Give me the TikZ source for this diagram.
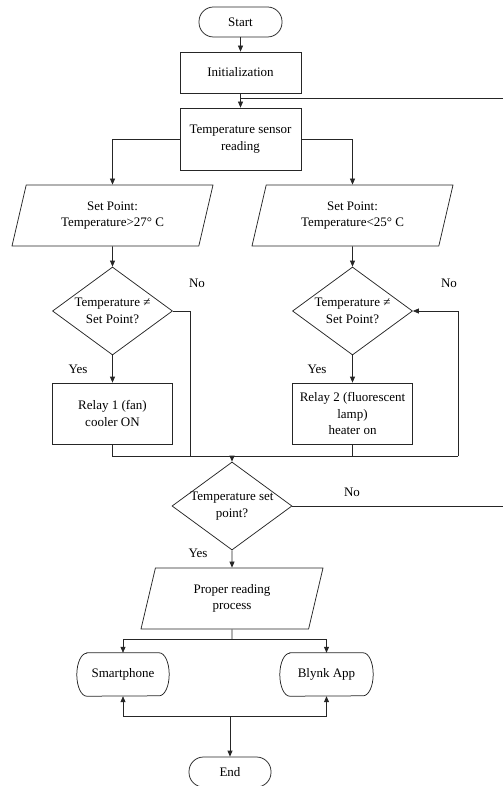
\documentclass[tikz,border=0pt]{standalone}
\usepackage{fontspec}
\setmainfont{Liberation Serif}
\usetikzlibrary{shapes.geometric,arrows.meta}
\begin{document}
\begin{tikzpicture}[x=1pt,y=-1pt,
  every node/.style={font=\fontsize{13}{16.5}\selectfont, align=center},
  ln/.style={line width=0.75pt, draw=black!85},
  arr/.style={ln, -{Triangle[length=6pt,width=5pt]}},
  term/.style={ln, rectangle, rounded corners=14.5pt, minimum width=83pt, minimum height=30pt, inner sep=0pt},
  proc/.style={ln, rectangle, minimum width=121pt, inner sep=0pt},
  io/.style={ln, trapezium, trapezium left angle=63, trapezium right angle=117, trapezium stretches body, minimum height=61pt, inner sep=0pt},
  dia/.style={ln, diamond, aspect=1.3636, minimum width=120pt, minimum height=88pt, inner sep=0pt},
  disp/.style={rectangle, minimum height=43pt, inner sep=0pt},
  lbl/.style={inner sep=0pt}
]
\useasboundingbox (0,0) rectangle (503,786);

% nodes
\node[term] (start) at (240.5,22) {Start};
\node[proc, minimum height=41pt] (init) at (240.5,72.5) {Initialization};
\node[proc, minimum height=62pt] (ts) at (240.5,139) {Temperature sensor\\reading};
\node[io, minimum width=201pt] (p1) at (112.5,215.5) {Set Point:\\Temperature>27° C};
\node[io, minimum width=201pt] (p2) at (352.5,215.5) {Set Point:\\Temperature<25° C};
\node[dia] (d1) at (112.5,311) {};
\node (d1t) at (d1) {Temperature ≠\\Set Point?};
\node[dia] (d2) at (352.5,311) {};
\node (d2t) at (d2) {Temperature ≠\\Set Point?};
\node[proc, minimum width=120pt, minimum height=61pt] (rl1) at (112.5,413.5) {Relay 1 (fan)\\cooler ON};
\node[proc, minimum width=120pt, minimum height=61pt] (rl2) at (352.5,413.5) {Relay 2 (fluorescent\\lamp)\\heater on};
\node[dia] (d3) at (232,506) {};
\node (d3t) at (d3) {Temperature set\\point?};
\node[io, minimum width=182pt] (p3) at (232,598.5) {Proper reading\\process};
\node[disp, minimum width=92pt] (sp) at (123,674.5) {Smartphone};
\node[disp, minimum width=93pt] (bl) at (326.5,674.5) {Blynk App};
\node[term, minimum width=82pt] (end) at (230,772) {End};

\foreach \n in {sp,bl}{
  \draw[ln] ([xshift=10pt]\n.north west) -- ([xshift=-10pt]\n.north east)
    arc[start angle=90,end angle=-90,x radius=10pt,y radius=21.5pt]
    -- ([xshift=10pt]\n.south west)
    arc[start angle=270,end angle=90,x radius=10pt,y radius=21.5pt] -- cycle;
}

% labels
\node[lbl] (no1) at (197,283) {No};
\node[lbl] (no2) at (449,283) {No};
\node[lbl] (yes1) at (78,369) {Yes};
\node[lbl] (yes2) at (317,369) {Yes};
\node[lbl] (no3) at (352,492) {No};
\node[lbl] (yes3) at (198,553) {Yes};

% coordinates
\coordinate (j1) at (240.5,98);
\coordinate (r1) at (503,98);
\coordinate (mL) at (112.5,456);
\coordinate (mA) at (190,456);
\coordinate (m3) at (232,456);
\coordinate (mR) at (458,456);
\coordinate (r3) at (503,506);
\coordinate (s1) at (232,639);
\coordinate (s2) at (230,716);

% connectors
\draw[arr] (start) -- (init);
\draw[arr] (init) -- (ts);
\draw[ln] (r1) -- (j1);
\draw[arr] (ts.west) -| (p1.north);
\draw[arr] (ts.east) -| (p2.north);
\draw[arr] (p1.south) -- (d1.north);
\draw[arr] (p2.south) -- (d2.north);
\draw[arr] (d1.south) -- (rl1.north);
\draw[arr] (d2.south) -- (rl2.north);
\draw[ln] (d1.east) -| (mA);
\draw[ln] (rl1.south) -- (mL) -- (mR);
\draw[ln] (rl2.south) -- (rl2.south |- mL);
\draw[arr] (mR) |- (d2.east);
\draw[arr] (m3) -- (d3.north);
\draw[ln] (d3.east) -- (r3);
\draw[arr] (d3.south) -- (p3.north);
\draw[ln] (p3.south) -- (s1);
\draw[arr] (s1) -| (sp.north);
\draw[arr] (s1) -| (bl.north);
\draw[arr] (s2) -| (sp.south);
\draw[arr] (s2) -| (bl.south);
\draw[arr] (s2) -- (end.north);
\end{tikzpicture}
\end{document}
